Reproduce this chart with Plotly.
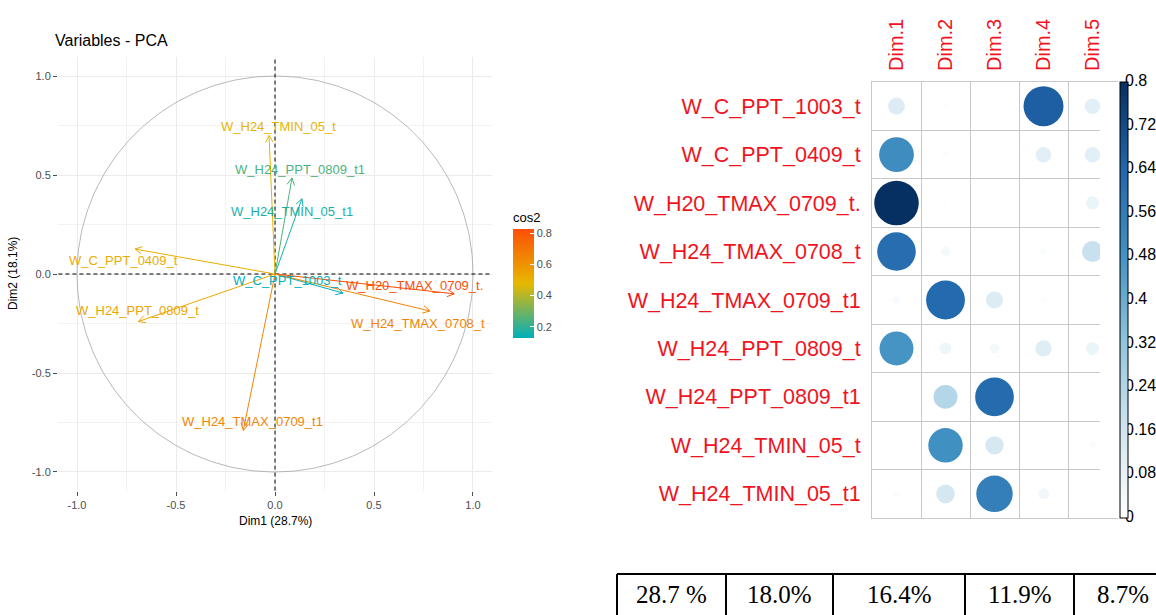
import numpy as np
import plotly.graph_objects as go
from plotly.colors import sample_colorscale

W, H = 1156, 615

# ---- data -------------------------------------------------------------
variables = ["W_C_PPT_1003_t", "W_C_PPT_0409_t", "W_H20_TMAX_0709_t.", "W_H24_TMAX_0708_t",
             "W_H24_TMAX_0709_t1", "W_H24_PPT_0809_t", "W_H24_PPT_0809_t1",
             "W_H24_TMIN_05_t", "W_H24_TMIN_05_t1"]
# variable coordinates on the first two components
dim1_coord = [0.343, -0.707, 0.905, 0.783, -0.160, -0.690, 0.086, -0.030, 0.136]
dim2_coord = [-0.096, 0.126, -0.100, -0.187, -0.790, -0.240, 0.485, 0.700, 0.380]
# squared cosines on components 3-5
dim3_cos2 = [0.000, 0.000, 0.000, 0.005, 0.120, 0.040, 0.620, 0.140, 0.550]
dim4_cos2 = [0.660, 0.100, 0.000, 0.020, 0.010, 0.110, 0.000, 0.005, 0.050]
dim5_cos2 = [0.100, 0.100, 0.070, 0.180, 0.005, 0.070, 0.000, 0.020, 0.000]
dims = ["Dim.1", "Dim.2", "Dim.3", "Dim.4", "Dim.5"]
variance_pct = ["28.7 %", "18.0%", "16.4%", "11.9%", "8.7%"]
axis_ticks = [-1.0, -0.5, 0.0, 0.5, 1.0]
cos2_ticks = [0.2, 0.4, 0.6, 0.8]
corr_ticks = [0, 0.08, 0.16, 0.24, 0.32, 0.4, 0.48, 0.56, 0.64, 0.72, 0.8]

# label anchor points (repelled away from arrow tips)
label_pos = {
    "W_C_PPT_1003_t": (0.065, -0.035),
    "W_C_PPT_0409_t": (-0.763, 0.066),
    "W_H20_TMAX_0709_t.": (0.707, -0.060),
    "W_H24_TMAX_0708_t": (0.722, -0.248),
    "W_H24_TMAX_0709_t1": (-0.116, -0.747),
    "W_H24_PPT_0809_t": (-0.692, -0.182),
    "W_H24_PPT_0809_t1": (0.128, 0.530),
    "W_H24_TMIN_05_t": (0.020, 0.747),
    "W_H24_TMIN_05_t1": (0.086, 0.318),
}

FONT = "Liberation Sans, Arial"


def px(x):
    return x / W


def py(y):
    return 1 - y / H


fig = go.Figure()

# ---- PCA variable correlation circle -----------------------------------
cos2 = [a * a + b * b for a, b in zip(dim1_coord, dim2_coord)]
cmin, cmax = min(cos2), max(cos2)
grad = [[0, "#00AFBB"], [0.5, "#E7B800"], [1, "#FC4E07"]]
arrow_cols = sample_colorscale(grad, [(c - cmin) / (cmax - cmin) for c in cos2])

t = np.linspace(0, 2 * np.pi, 361)
fig.add_trace(go.Scatter(x=np.cos(t), y=np.sin(t), mode="lines",
                         line=dict(color="#A6A6A6", width=0.8),
                         hoverinfo="skip", showlegend=False))
fig.add_trace(go.Scatter(x=[-1.2, 1.2], y=[0, 0], mode="lines",
                         line=dict(color="black", width=1, dash="4px,3px"),
                         hoverinfo="skip", showlegend=False))
fig.add_trace(go.Scatter(x=[0, 0], y=[-1.2, 1.2], mode="lines",
                         line=dict(color="black", width=1, dash="4px,3px"),
                         hoverinfo="skip", showlegend=False))

head_len, head_ang = 0.04, np.deg2rad(28)
for name, x, y, col in zip(variables, dim1_coord, dim2_coord, arrow_cols):
    th = np.arctan2(y, x)
    w1 = (x - head_len * np.cos(th - head_ang), y - head_len * np.sin(th - head_ang))
    w2 = (x - head_len * np.cos(th + head_ang), y - head_len * np.sin(th + head_ang))
    fig.add_trace(go.Scatter(x=[0, x, None, w1[0], x, w2[0]],
                             y=[0, y, None, w1[1], y, w2[1]],
                             mode="lines", line=dict(color=col, width=1),
                             hoverinfo="skip", showlegend=False))
    lx, ly = label_pos[name]
    fig.add_annotation(x=lx, y=ly, xref="x", yref="y", text=name, showarrow=False,
                       font=dict(family=FONT, size=13, color=col),
                       xanchor="center", yanchor="middle")

# colour key for cos2
fig.add_trace(go.Scatter(
    x=dim1_coord, y=dim2_coord, mode="markers", hoverinfo="skip", showlegend=False,
    marker=dict(size=1, opacity=0, color=cos2, colorscale=grad, cmin=cmin, cmax=cmax,
                showscale=True,
                colorbar=dict(x=px(513), xanchor="left", xpad=0, y=py(338), yanchor="bottom",
                              ypad=0, len=129, lenmode="pixels", thickness=21,
                              thicknessmode="pixels", outlinewidth=0,
                              tickvals=cos2_ticks, ticktext=[f"{v:.1f}" for v in cos2_ticks],
                              ticks="inside", ticklen=4, tickcolor="white",
                              tickfont=dict(family=FONT, size=11, color="#4D4D4D"),
                              title=dict(text="cos2", side="top",
                                         font=dict(family=FONT, size=13, color="black"))))))

fig.update_layout(
    xaxis=dict(domain=[px(58), px(492)], range=[-1.096, 1.096], anchor="y",
               tickvals=axis_ticks, ticktext=[f"{v:.1f}" for v in axis_ticks],
               showgrid=True, gridcolor="#EBEBEB", gridwidth=1,
               minor=dict(tickvals=[-0.75, -0.25, 0.25, 0.75], showgrid=True,
                          gridcolor="#F2F2F2", gridwidth=0.7),
               ticks="outside", ticklen=4, tickcolor="#4D4D4D", zeroline=False,
               showline=False, tickfont=dict(family=FONT, size=11, color="#4D4D4D")),
    yaxis=dict(domain=[py(491), py(57)], range=[-1.096, 1.096], anchor="x",
               tickvals=axis_ticks, ticktext=[f"{v:.1f}" for v in axis_ticks],
               showgrid=True, gridcolor="#EBEBEB", gridwidth=1,
               minor=dict(tickvals=[-0.75, -0.25, 0.25, 0.75], showgrid=True,
                          gridcolor="#F2F2F2", gridwidth=0.7),
               ticks="outside", ticklen=4, tickcolor="#4D4D4D", zeroline=False,
               showline=False, tickfont=dict(family=FONT, size=11, color="#4D4D4D")),
)

fig.add_annotation(x=px(53), y=py(40), xref="paper", yref="paper", text="Variables - PCA",
                   showarrow=False, xanchor="left", yanchor="middle",
                   font=dict(family=FONT, size=16, color="black"))
fig.add_annotation(x=px(275), y=py(521), xref="paper", yref="paper", text="Dim1 (28.7%)",
                   showarrow=False, xanchor="center", yanchor="middle",
                   font=dict(family=FONT, size=12, color="black"))
fig.add_annotation(x=px(13), y=py(274), xref="paper", yref="paper", text="Dim2 (18.1%)",
                   showarrow=False, textangle=-90, xanchor="center", yanchor="middle",
                   font=dict(family=FONT, size=12, color="black"))

# ---- cos2 matrix (circle plot) -----------------------------------------
cos2_matrix = [[a * a for a in dim1_coord], [b * b for b in dim2_coord],
               dim3_cos2, dim4_cos2, dim5_cos2]
cx, cy, cv = [], [], []
for j, col_vals in enumerate(cos2_matrix):
    for i, v in enumerate(col_vals):
        cx.append(j + 1)
        cy.append(i + 1)
        cv.append(v)
cv = np.array(cv)
blues = [[0.0, "#FFFFFF"], [0.2, "#D1E5F0"], [0.4, "#92C5DE"], [0.6, "#4393C3"],
         [0.8, "#2166AC"], [1.0, "#053061"]]

# tick labels of the circle-plot key sit partly under the bar, as corrplot draws them
fig.add_trace(go.Scatter(
    x=[1125] * len(corr_ticks), y=corr_ticks, xaxis="x3", yaxis="y3", mode="text",
    text=[f"{v:g}" for v in corr_ticks], textposition="middle right", cliponaxis=False,
    textfont=dict(family=FONT, size=16, color="black"),
    hoverinfo="skip", showlegend=False))

fig.add_trace(go.Scatter(
    x=cx, y=cy, xaxis="x2", yaxis="y2", mode="markers", hoverinfo="skip", showlegend=False,
    marker=dict(size=44 * np.sqrt(np.clip(cv, 0, None) / 0.8), sizemode="diameter",
                color=cv, colorscale=blues, cmin=0, cmax=0.8, opacity=1,
                line=dict(width=0),
                showscale=True,
                colorbar=dict(x=px(1120), xanchor="left", xpad=0, y=py(300), yanchor="middle",
                              ypad=0, len=436, lenmode="pixels", thickness=8,
                              thicknessmode="pixels", outlinewidth=1, outlinecolor="black",
                              tickvals=corr_ticks, ticks="", showticklabels=False))))

red = "#F0141E"
fig.update_layout(
    xaxis2=dict(domain=[px(872), px(1117)], range=[0.5, 5.5], anchor="y2", side="top",
                tickvals=list(range(1, len(dims) + 1)), ticktext=dims, tickangle=-90,
                showgrid=False, zeroline=False, ticks="",
                minor=dict(tickvals=[k + 0.5 for k in range(len(dims) + 1)], showgrid=True,
                           gridcolor="#C8C8C8", gridwidth=1),
                showline=True, mirror=True, linecolor="#C8C8C8", linewidth=1,
                ticklabelstandoff=6, tickfont=dict(family=FONT, size=20, color=red)),
    yaxis2=dict(domain=[py(518), py(82)], range=[len(variables) + 0.5, 0.5], anchor="x2",
                tickvals=list(range(1, len(variables) + 1)), ticktext=variables,
                showgrid=False, zeroline=False, ticks="",
                minor=dict(tickvals=[k + 0.5 for k in range(len(variables) + 1)],
                           showgrid=True, gridcolor="#C8C8C8", gridwidth=1),
                showline=True, mirror=True, linecolor="#C8C8C8", linewidth=1,
                ticklabelstandoff=6, tickfont=dict(family=FONT, size=21.5, color=red)),
    xaxis3=dict(domain=[px(1100), 1], range=[1100, 1156], anchor="y3", visible=False),
    yaxis3=dict(domain=[py(518), py(82)], range=[0, 0.8], anchor="x3", visible=False),
)

# ---- explained variance row --------------------------------------------
col_edges = [617, 726, 833, 965, 1074, 1172]
table_top = 574
fig.add_shape(type="line", xref="paper", yref="paper", x0=px(col_edges[0]), x1=1,
              y0=py(table_top), y1=py(table_top), line=dict(color="black", width=2))
for e in col_edges[:-1]:
    fig.add_shape(type="line", xref="paper", yref="paper", x0=px(e), x1=px(e),
                  y0=py(table_top), y1=py(H + 5), line=dict(color="black", width=2))
for k, txt in enumerate(variance_pct):
    fig.add_annotation(x=px((col_edges[k] + col_edges[k + 1]) / 2), y=py(594),
                       xref="paper", yref="paper", text=txt, showarrow=False,
                       xanchor="center", yanchor="middle",
                       font=dict(family="Liberation Serif, Times New Roman", size=25,
                                 color="black"))

fig.update_layout(width=W, height=H, margin=dict(l=0, r=0, t=0, b=0),
                  paper_bgcolor="white", plot_bgcolor="white", showlegend=False)

fig.write_html("out.html")
